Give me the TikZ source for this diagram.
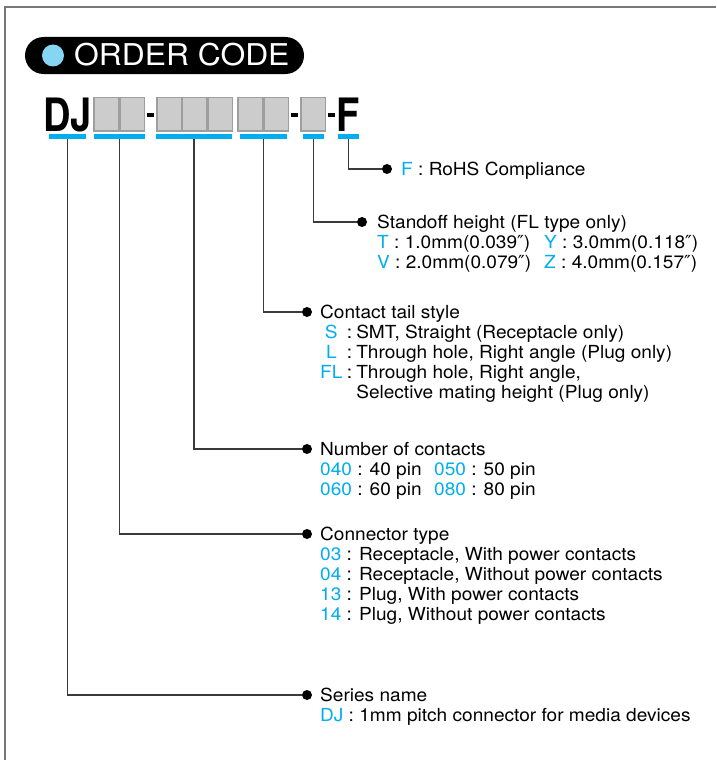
\documentclass[tikz,border=0pt]{standalone}
\usepackage{fontspec}
\setmainfont{TeX Gyre Heros}[FakeStretch=1.06]
\newfontfamily\primefont{DejaVu Sans}
\definecolor{codeblue}{RGB}{0,174,239}
\definecolor{bulletblue}{RGB}{135,213,245}
\definecolor{boxgray}{RGB}{204,204,204}
\definecolor{boxedge}{RGB}{158,158,158}
\definecolor{framegray}{RGB}{119,119,119}
\definecolor{leadergray}{RGB}{58,58,58}
\newcommand\cd[1]{\textcolor{codeblue}{#1}}
\newcommand\inch{{\primefont\fontsize{18}{20}\selectfont ″}}

\begin{document}
\begin{tikzpicture}[x = 1pt, y = -1pt,
  leader/.style = {draw = leadergray, line width = 1.2pt},
  dot/.style = {circle, fill = black, inner sep = 0, minimum size = 10pt},
  desc/.style = {anchor = base west, inner sep = 0,
    font = \fontsize{18}{20}\selectfont},
  codebox/.style = {fill = boxgray, draw = boxedge, line width = 1.2pt}]
  \useasboundingbox (0, 0) rectangle (716, 760);

  \draw[framegray, line width = 2pt] (5, 760) -- (5, 7) -- (716, 7);

  % title
  \fill[black, rounded corners = 18.5pt] (25, 37) rectangle (304, 74);
  \fill[bulletblue] (53, 55.5) circle[radius = 11pt];
  \node[anchor = base west, inner sep = 0, text = white,
  font = \fontsize{30}{30}\selectfont] (title) at (74, 66) {ORDER CODE};

  % part number
  \node[anchor = base west, inner sep = 0,
  font = \fontsize{46}{46}\selectfont\bfseries] (dj) at (43, 131)
  {\scalebox{0.78}[1]{DJ}};
  \node[anchor = base west, inner sep = 0,
  font = \fontsize{46}{46}\selectfont\bfseries] (f) at (336, 131)
  {\scalebox{0.78}[1]{F}};
  \foreach \x in {94, 120, 157, 182, 208, 238, 264, 301}
  \draw[codebox] (\x, 97.5) rectangle +(24.5, 33.5);
  \foreach \x in {147, 291, 328}
  \fill (\x, 113) rectangle +(6.5, 4);

  \foreach \a/\b/\n in {49/86/sr, 94/145/ct, 156/232/nc, 240/287/ts,
    303/324/sh, 338/359/rh} {
    \fill[codeblue] (\a, 134) rectangle (\b, 139);
    \coordinate (b\n) at ({(\a + \b) / 2}, 139);
  }

  % dots
  \node[dot] (drh) at (387, 169) {};
  \node[dot] (dsh) at (362, 222) {};
  \node[dot] (dts) at (307, 312) {};
  \node[dot] (dnc) at (307, 449) {};
  \node[dot] (dct) at (307, 534) {};
  \node[dot] (dsr) at (307, 695) {};

  \foreach \n in {rh, sh, ts, nc, ct, sr}
  \draw[leader] (b\n) |- (d\n);

  % descriptions
  \node[desc] (rohs) at (401, 175.5) {\cd{F} : RoHS Compliance};

  \node[desc] (standoff) at (377, 228.5) {\begin{tabular}[t]{@{}p{167pt}@{}l@{}}
      \multicolumn{2}{@{}l@{}}{Standoff height (FL type only)}\\
      \cd{T} : 1.0mm(0.039\inch) & \cd{Y} : 3.0mm(0.118\inch)\\
      \cd{V} : 2.0mm(0.079\inch) & \cd{Z} : 4.0mm(0.157\inch)
    \end{tabular}};

  \node[desc] (tail) at (320, 318.5)
  {\begin{tabular}[t]{@{}c@{\hspace{4.5pt}}c@{\hspace{4pt}}l@{}}
      \multicolumn{3}{@{}l@{}}{Contact tail style}\\
      \cd{S} & : & SMT, Straight (Receptacle only)\\
      \cd{L} & : & Through hole, Right angle (Plug only)\\
      \cd{FL} & : & Through hole, Right angle,\\
      & & Selective mating height (Plug only)
    \end{tabular}};

  \node[desc] (contacts) at (320, 455.5) {\begin{tabular}[t]{@{}p{114pt}@{}l@{}}
      \multicolumn{2}{@{}l@{}}{Number of contacts}\\
      \cd{040} : 40 pin & \cd{050} : 50 pin\\
      \cd{060} : 60 pin & \cd{080} : 80 pin
    \end{tabular}};

  \node[desc] (type) at (320, 540.5) {\begin{tabular}[t]{@{}l@{}}
      Connector type\\
      \cd{03} : Receptacle, With power contacts\\
      \cd{04} : Receptacle, Without power contacts\\
      \cd{13} : Plug, With power contacts\\
      \cd{14} : Plug, Without power contacts
    \end{tabular}};

  \node[desc] (series) at (320, 701.5) {\begin{tabular}[t]{@{}l@{}}
      Series name\\
      \cd{DJ} : 1mm pitch connector for media devices
    \end{tabular}};
\end{tikzpicture}
\end{document}
